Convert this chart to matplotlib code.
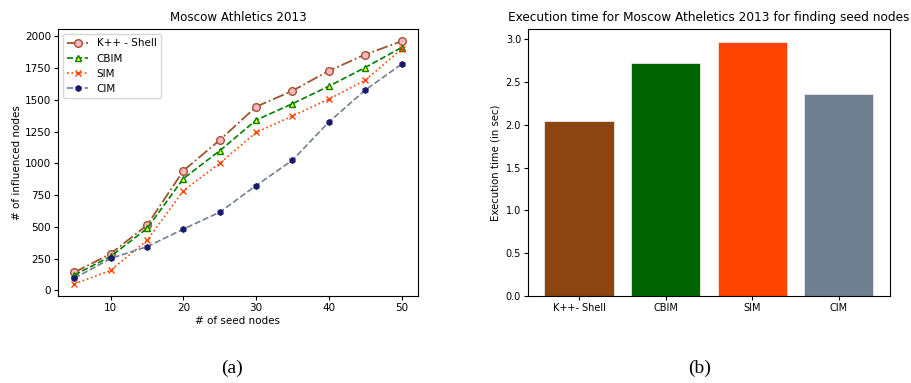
import matplotlib
matplotlib.use("Agg")
import matplotlib.pyplot as plt

seeds = [5, 10, 15, 20, 25, 30, 35, 40, 45, 50]
kpp_shell = [141, 288, 513, 942, 1183, 1445, 1571, 1728, 1856, 1961]
cbim = [120, 267, 487, 880, 1099, 1340, 1469, 1607, 1754, 1911]
sim = [50, 157, 393, 785, 1000, 1243, 1372, 1505, 1654, 1898]
cim = [94, 251, 343, 482, 615, 825, 1024, 1325, 1576, 1780]

methods = ["K++- Shell", "CBIM", "SIM", "CIM"]
exec_times = [2.04, 2.72, 2.97, 2.36]
bar_colors = ["#8B4513", "#006400", "#FF4500", "#708090"]

fig = plt.figure(figsize=(9.11, 3.83), dpi=100)

# (a) influenced nodes
ax1 = fig.add_axes([0.0637, 0.227, 0.395, 0.697])
ax1.plot(seeds, kpp_shell, linestyle="-.", color="sienna", marker="o", linewidth=1.3,
         markerfacecolor="lightpink", markeredgecolor="sienna", markersize=5.5,
         label="K++ - Shell")
ax1.plot(seeds, cbim, linestyle="--", color="green", marker="^", linewidth=1.2,
         markerfacecolor="yellow", markeredgecolor="green", markersize=5,
         label="CBIM")
ax1.plot(seeds, sim, linestyle=":", color="orangered", marker="x", linewidth=1.2,
         markersize=5, label="SIM")
ax1.plot(seeds, cim, linestyle="--", color="slategray", marker="h", linewidth=1.2,
         markerfacecolor="midnightblue", markeredgecolor="midnightblue",
         markersize=4, label="CIM")
ax1.set_title("Moscow Athletics 2013", fontsize=8.6)
ax1.set_xlabel("# of seed nodes", fontsize=7.5, labelpad=2)
ax1.set_ylabel("# of influenced nodes", fontsize=7.5, labelpad=2)
ax1.set_xticks([10, 20, 30, 40, 50])
ax1.set_yticks(range(0, 2001, 250))
ax1.tick_params(labelsize=7.5, length=3, pad=2)
ax1.legend(loc="upper left", fontsize=7.5, handlelength=2.0)

# (b) execution time
ax2 = fig.add_axes([0.5796, 0.227, 0.397, 0.697])
ax2.bar(methods, exec_times, color=bar_colors, edgecolor="#e8e8e8", linewidth=0.6)
ax2.set_title("Execution time for Moscow Atheletics 2013 for finding seed nodes", fontsize=8.7)
ax2.set_ylabel("Execution time (in sec)", fontsize=7.3, labelpad=4)
ax2.tick_params(labelsize=7, length=3, pad=2)

fig.text(0.255, 0.025, "(a)", fontsize=14, family="Liberation Serif", ha="center")
fig.text(0.768, 0.025, "(b)", fontsize=14, family="Liberation Serif", ha="center")

fig.savefig("out.png", dpi=100)
